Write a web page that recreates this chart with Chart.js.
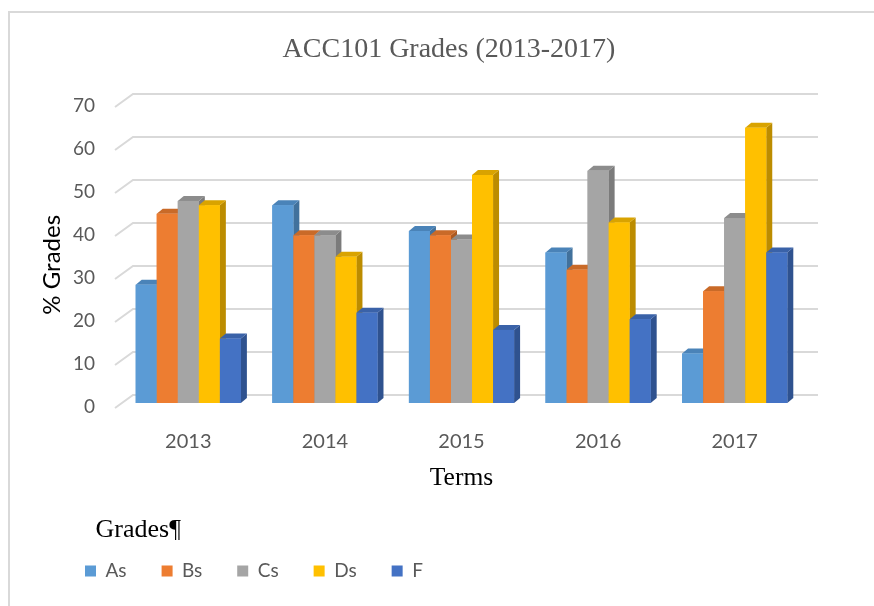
<!DOCTYPE html>
<html>
<head>
<meta charset="utf-8">
<title>ACC101 Grades (2013-2017)</title>
<script src="https://cdn.jsdelivr.net/npm/chart.js@4"></script>
<style>
  body { margin: 0; background: #fff; }
  #wrap { position: relative; width: 874px; height: 606px; }
  #frame { position: absolute; left: 8px; top: 11px; right: 0; bottom: 0;
           border-top: 2px solid #d9d9d9; border-left: 2px solid #d9d9d9; pointer-events: none; }
  canvas { position: absolute; left: 0; top: 0; }
</style>
</head>
<body>
<div id="wrap">
  <canvas id="chart" width="874" height="606"></canvas>
  <div id="frame"></div>
</div>
<script>
const terms = ['2013', '2014', '2015', '2016', '2017'];
const gradeNames = ['As', 'Bs', 'Cs', 'Ds', 'F'];
const asValues = [27.5, 46, 40, 35, 11.5];
const bsValues = [44, 39, 39, 31, 26];
const csValues = [47, 39, 38, 54, 43];
const dsValues = [46, 34, 53, 42, 64];
const fValues = [15, 21, 17, 19.5, 35];
const yTicks = [0, 10, 20, 30, 40, 50, 60, 70];

const frontColors = ['#5b9bd5', '#ed7d31', '#a5a5a5', '#ffc000', '#4472c4'];
const sideColors = ['#41719c', '#ae5a21', '#7b7b7b', '#bc8c00', '#2f528f'];
const topColors = ['#4a83b8', '#c96a28', '#8c8c8c', '#d9a300', '#3a62a8'];

const seriesValues = [asValues, bsValues, csValues, dsValues, fValues];

// back wall gridlines with the little diagonal on the left
const gridPlugin = {
    id: 'grid3d',
    beforeDatasetsDraw(chart) {
        const ctx = chart.ctx;
        const y = chart.scales.y;
        const left = chart.chartArea.left;
        ctx.save();
        ctx.strokeStyle = '#d9d9d9';
        ctx.lineWidth = 2;
        yTicks.forEach(v => {
            const py = y.getPixelForValue(v);
            ctx.beginPath();
            ctx.moveTo(left - 5, py + 5);
            ctx.lineTo(left + 13, py - 8);
            ctx.lineTo(818, py - 8);
            ctx.stroke();
        });
        ctx.restore();
    }
};

// side and top faces for each column, left to right
const barPlugin = {
    id: 'bars3d',
    afterDatasetsDraw(chart) {
        const ctx = chart.ctx;
        const dx = 6, dy = -5;
        ctx.save();
        terms.forEach((t, i) => {
            chart.data.datasets.forEach((ds, d) => {
                const bar = chart.getDatasetMeta(d).data[i];
                const l = bar.x - bar.width / 2;
                const r = bar.x + bar.width / 2;
                ctx.fillStyle = sideColors[d];
                ctx.beginPath();
                ctx.moveTo(r, bar.y);
                ctx.lineTo(r + dx, bar.y + dy);
                ctx.lineTo(r + dx, bar.base + dy);
                ctx.lineTo(r, bar.base);
                ctx.closePath();
                ctx.fill();
                ctx.fillStyle = topColors[d];
                ctx.beginPath();
                ctx.moveTo(l, bar.y);
                ctx.lineTo(l + dx, bar.y + dy);
                ctx.lineTo(r + dx, bar.y + dy);
                ctx.lineTo(r, bar.y);
                ctx.closePath();
                ctx.fill();
                ctx.fillStyle = frontColors[d];
                ctx.fillRect(l, bar.y, bar.width, bar.base - bar.y);
            });
        });
        ctx.restore();
    }
};

const ctx = document.getElementById('chart').getContext('2d');
new Chart(ctx, {
    type: 'bar',
    data: {
        labels: terms,
        datasets: gradeNames.map((name, i) => ({
            label: name,
            data: seriesValues[i],
            backgroundColor: frontColors[i],
            borderWidth: 0,
            categoryPercentage: 0.77,
            barPercentage: 1
        }))
    },
    options: {
        responsive: false,
        animation: false,
        layout: { padding: { left: 50, right: 26, top: 12, bottom: 15.5 } },
        plugins: {
            title: {
                display: true,
                text: 'ACC101 Grades (2013-2017)',
                color: '#595959',
                font: { family: 'Liberation Serif', size: 28, weight: 'normal' },
                padding: { top: 21.2, bottom: 35.2 }
            },
            legend: {
                position: 'bottom',
                align: 'start',
                title: {
                    display: true,
                    text: '       Grades¶',
                    position: 'start',
                    color: '#000',
                    font: { family: 'Liberation Serif', size: 26 },
                    padding: { top: -1.5, bottom: -21.7 }
                },
                labels: {
                    boxWidth: 11,
                    boxHeight: 11,
                    padding: 35,
                    color: '#595959',
                    font: { family: 'Lato', size: 19 }
                }
            },
            tooltip: { enabled: false }
        },
        scales: {
            x: {
                grid: { display: false, drawTicks: false },
                border: { display: false },
                ticks: { color: '#595959', font: { family: 'Lato', size: 20 }, padding: 27 },
                title: {
                    display: true,
                    text: 'Terms',
                    color: '#000',
                    font: { family: 'Liberation Serif', size: 25.5 },
                    padding: { top: 0, bottom: 25.2 }
                },
                afterFit(scale) { scale.height = 115.5; }
            },
            y: {
                min: 0,
                max: 70,
                grid: { display: false, drawTicks: false },
                border: { display: false },
                ticks: { stepSize: 10, color: '#595959', font: { family: 'Lato', size: 19 }, padding: 25, labelOffset: 4 },
                title: {
                    display: true,
                    text: '% Grades    ',
                    color: '#000',
                    font: { family: 'Lato', size: 24 },
                    padding: { top: -12, bottom: 0 }
                },
                afterFit(scale) { scale.width = 70; }
            },
            yRight: {
                position: 'right',
                display: true,
                grid: { display: false, drawTicks: false },
                border: { display: false },
                ticks: { display: false },
                afterFit(scale) { scale.width = 45; }
            }
        }
    },
    plugins: [gridPlugin, barPlugin]
});
</script>
</body>
</html>
